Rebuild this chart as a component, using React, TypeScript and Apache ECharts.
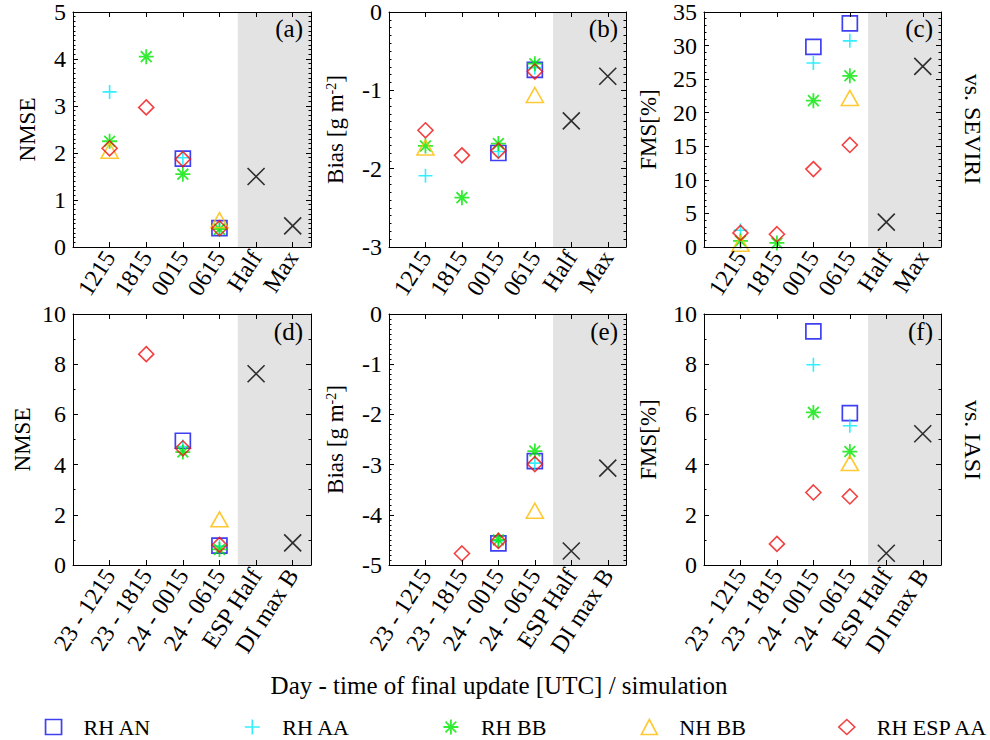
import React, { useEffect, useRef } from "react";
import * as echarts from "echarts";

// ---------- tick labels / categories ----------
const seviriTicks = ["1215", "1815", "0015", "0615", "Half", "Max"];
const iasiTicks = ["23 - 1215", "23 - 1815", "24 - 0015", "24 - 0615", "ESP Half", "DI max B"];
const seriesNames = ["RH AN", "RH AA", "RH BB", "NH BB", "RH ESP AA"];

// ---------- values (first four categories), reference runs (last two) ----------
// (a) NMSE vs SEVIRI
const aRhAn = [null, null, 1.88, 0.4];
const aRhAa = [3.3, null, 1.9, 0.4];
const aRhBb = [2.25, 4.05, 1.55, 0.38];
const aNhBb = [2.05, null, null, 0.57];
const aRhEspAa = [2.1, 2.97, 1.87, 0.4];
const aRef = [1.5, 0.45];
// (b) Bias vs SEVIRI
const bRhAn = [null, null, -1.8, -0.74];
const bRhAa = [-2.09, null, -1.78, -0.71];
const bRhBb = [-1.71, -2.37, -1.68, -0.66];
const bNhBb = [-1.73, null, null, -1.06];
const bRhEspAa = [-1.51, -1.83, -1.77, -0.76];
const bRef = [-1.39, -0.82];
// (c) FMS vs SEVIRI
const cRhAn = [null, null, 29.8, 33.3];
const cRhAa = [2.5, null, 27.4, 30.7];
const cRhBb = [0.9, 0.6, 21.8, 25.5];
const cNhBb = [0.5, null, null, 22.2];
const cRhEspAa = [2.1, 1.9, 11.6, 15.2];
const cRef = [3.7, 26.9];
// (d) NMSE vs IASI
const dRhAn = [null, null, 4.95, 0.77];
const dRhAa = [null, null, 4.72, 0.75];
const dRhBb = [null, null, 4.5, 0.62];
const dNhBb = [null, null, null, 1.82];
const dRhEspAa = [null, 8.4, 4.65, 0.8];
const dRef = [7.62, 0.88];
// (e) Bias vs IASI
const eRhAn = [null, null, -4.57, -2.93];
const eRhAa = [null, null, -4.52, -2.97];
const eRhBb = [null, null, -4.5, -2.73];
const eNhBb = [null, null, null, -3.92];
const eRhEspAa = [null, -4.77, -4.52, -2.99];
const eRef = [-4.72, -3.07];
// (f) FMS vs IASI
const fRhAn = [null, null, 9.31, 6.05];
const fRhAa = [null, null, 7.98, 5.55];
const fRhBb = [null, null, 6.08, 4.52];
const fNhBb = [null, null, null, 4.06];
const fRhEspAa = [null, 0.84, 2.89, 2.73];
const fRef = [0.47, 5.23];

const FONT = "Liberation Serif";
const COLORS = ["#1010f0", "#00eaff", "#00e600", "#ffbb00", "#f01010"];
const WIDTHS = [1.7, 1.6, 1.8, 1.6, 1.6];
const PLUS = "path://M0,-1L0,1M-1,0L1,0";
const STAR = "path://M0,-1L0,1M-1,0L1,0M-0.72,-0.72L0.72,0.72M-0.72,0.72L0.72,-0.72";
const CROSS = "path://M-1,-1L1,1M-1,1L1,-1";
const SYMBOLS = ["rect", PLUS, STAR, "triangle", "diamond"];
const SIZES: any[] = [15, 14, 15, [17, 15], 15];

const panels = [
  { letter: "(a)", left: 73, top: 11, width: 238, height: 236, min: 0, max: 5, interval: 1, minor: 10, name: "NMSE", nameGap: 34, ticks: seviriTicks, vals: [aRhAn, aRhAa, aRhBb, aNhBb, aRhEspAa], ref: aRef },
  { letter: "(b)", left: 389, top: 11, width: 237, height: 236, min: -3, max: 0, interval: 1, minor: 10, name: "{b|Bias [g m}{s|-2}{b|]}", nameGap: 42, ticks: seviriTicks, vals: [bRhAn, bRhAa, bRhBb, bNhBb, bRhEspAa], ref: bRef },
  { letter: "(c)", left: 704, top: 11, width: 237, height: 236, min: 0, max: 35, interval: 5, minor: 5, name: "FMS[%]", nameGap: 44, ticks: seviriTicks, vals: [cRhAn, cRhAa, cRhBb, cNhBb, cRhEspAa], ref: cRef },
  { letter: "(d)", left: 73, top: 314, width: 238, height: 251, min: 0, max: 10, interval: 2, minor: 2, name: "NMSE", nameGap: 39, ticks: iasiTicks, vals: [dRhAn, dRhAa, dRhBb, dNhBb, dRhEspAa], ref: dRef },
  { letter: "(e)", left: 389, top: 314, width: 237, height: 251, min: -5, max: 0, interval: 1, minor: 10, name: "{b|Bias [g m}{s|-2}{b|]}", nameGap: 42, ticks: iasiTicks, vals: [eRhAn, eRhAa, eRhBb, eNhBb, eRhEspAa], ref: eRef },
  { letter: "(f)", left: 704, top: 314, width: 237, height: 251, min: 0, max: 10, interval: 2, minor: 2, name: "FMS[%]", nameGap: 44, ticks: iasiTicks, vals: [fRhAn, fRhAa, fRhBb, fNhBb, fRhEspAa], ref: fRef },
];

const legendCenters = [52.7, 252, 450.5, 648.5, 846];

function buildOption() {
  const grid: any[] = [];
  const xAxis: any[] = [];
  const yAxis: any[] = [];
  const series: any[] = [];
  const graphic: any[] = [];
  const lineStyle = { color: "#000", width: 1 };

  panels.forEach((p, i) => {
    grid.push({ left: p.left, top: p.top, width: p.width, height: p.height });
    const xBase = {
      gridIndex: i, type: "value", min: 0, max: 6.5, interval: 1, z: 5,
      axisLine: { show: true, onZero: false, lineStyle },
      axisTick: { show: true, inside: true, length: 5, lineStyle },
      splitLine: { show: false },
    };
    xAxis.push({
      ...xBase, position: "bottom",
      axisLabel: {
        show: true, rotate: 57, margin: 6, color: "#000", fontSize: 24, fontFamily: FONT,
        formatter: (v: number) => (Number.isInteger(v) && v >= 1 && v <= 6 ? p.ticks[v - 1] : ""),
      },
    });
    xAxis.push({ ...xBase, position: "top", axisLabel: { show: false } });
    const yBase = {
      gridIndex: i, type: "value", min: p.min, max: p.max, interval: p.interval, z: 5,
      axisLine: { show: true, onZero: false, lineStyle },
      axisTick: { show: true, inside: true, length: 5, lineStyle },
      minorTick: { show: true, splitNumber: p.minor, length: 2.5, lineStyle },
      splitLine: { show: false },
      minorSplitLine: { show: false },
    };
    yAxis.push({
      ...yBase, position: "left",
      axisLabel: { show: true, margin: 7, color: "#000", fontSize: 24, fontFamily: FONT },
      name: p.name, nameLocation: "middle", nameRotate: 90, nameGap: p.nameGap,
      nameTextStyle: {
        color: "#000", fontSize: 23, fontFamily: FONT,
        rich: {
          b: { fontSize: 23, fontFamily: FONT, color: "#000" },
          s: { fontSize: 14, fontFamily: FONT, color: "#000", verticalAlign: "top" },
        },
      },
    });
    yAxis.push({ ...yBase, position: "right", axisLabel: { show: false } });

    p.vals.forEach((vals, k) => {
      series.push({
        type: "scatter", name: seriesNames[k], xAxisIndex: 2 * i, yAxisIndex: 2 * i,
        symbol: SYMBOLS[k], symbolSize: SIZES[k], z: 3,
        itemStyle: { color: "rgba(0,0,0,0)", borderColor: COLORS[k], borderWidth: WIDTHS[k] },
        data: vals.map((v, j) => (v == null ? null : [j + 1, v])).filter((d) => d != null),
      });
    });
    series.push({
      type: "scatter", name: "ref", xAxisIndex: 2 * i, yAxisIndex: 2 * i,
      symbol: CROSS, symbolSize: 17, z: 3,
      itemStyle: { color: "rgba(0,0,0,0)", borderColor: "#000", borderWidth: 1.6 },
      data: p.ref.map((v, j) => [5 + j, v]),
      markArea: {
        silent: true, z: 1,
        itemStyle: { color: "#e3e3e3" },
        data: [[{ xAxis: 4.5 }, { xAxis: 6.5 }]],
      },
    });

    graphic.push({
      type: "text", x: p.left + p.width - 8, y: p.top + 17, z: 10,
      style: { text: p.letter, font: `25px "${FONT}"`, fill: "#000", align: "right", verticalAlign: "middle" },
    });
  });

  graphic.push({
    type: "text", x: 973, y: 129, rotation: -Math.PI / 2,
    style: { text: "vs. SEVIRI", font: `24px "${FONT}"`, fill: "#000", align: "center", verticalAlign: "middle" },
  });
  graphic.push({
    type: "text", x: 973, y: 440, rotation: -Math.PI / 2,
    style: { text: "vs. IASI", font: `24px "${FONT}"`, fill: "#000", align: "center", verticalAlign: "middle" },
  });
  graphic.push({
    type: "text", x: 499, y: 685,
    style: { text: "Day - time of final update [UTC] / simulation", font: `25px "${FONT}"`, fill: "#000", align: "center", verticalAlign: "middle" },
  });

  const legend = seriesNames.map((n, k) => ({
    data: [n], left: legendCenters[k] - 8, top: 716, padding: 0,
    itemWidth: 16, itemHeight: 15, selectedMode: false,
    icon: SYMBOLS[k],
    itemStyle: { color: "rgba(0,0,0,0)", borderColor: COLORS[k], borderWidth: WIDTHS[k] },
    textStyle: { color: "#000", fontSize: 22, fontFamily: FONT, padding: [0, 0, 0, 17] },
  }));

  return {
    animation: false,
    backgroundColor: "#fff",
    textStyle: { fontFamily: FONT },
    grid, xAxis, yAxis, series, graphic, legend,
  };
}

export default function App() {
  const ref = useRef<HTMLDivElement>(null);
  useEffect(() => {
    if (!ref.current) return;
    const chart = echarts.init(ref.current, null, { renderer: "svg" });
    chart.setOption(buildOption() as any);
    return () => chart.dispose();
  }, []);
  return (
    <div
      ref={ref}
      style={{ position: "fixed", left: 0, top: 0, width: 990, height: 740, background: "#fff" }}
    />
  );
}
